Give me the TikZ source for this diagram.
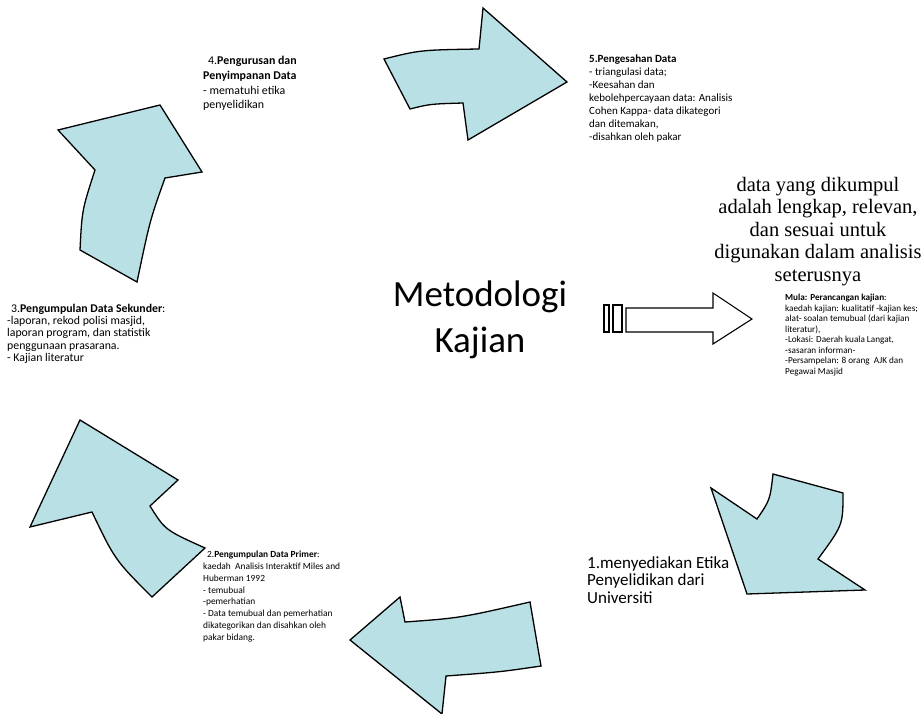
\documentclass[tikz,border=0pt]{standalone}
\usepackage{fontspec}
\setmainfont{Carlito}
\newfontfamily\serifText{Liberation Serif}
\definecolor{arrowFill}{RGB}{185,224,228}

\begin{document}
\begin{tikzpicture}
[x=1pt,y=-1pt,
  arrowDecorate/.style={draw=black,line width=1.3pt,fill=arrowFill,line join=miter},%
  hollowDecorate/.style={draw=black,line width=1.1pt,fill=white},%
  noteDecorate/.style={anchor=north west,inner sep=0pt,align=left},%
  smallNote/.style={noteDecorate,font=\fontsize{11}{13}\selectfont}]
\useasboundingbox (0,0) rectangle (924,714);
%% curved arrows round the cycle
\draw[arrowDecorate] (384,59) .. controls (420,50) .. (479,49) -- (483,8) -- (567,82)
  -- (468,140) -- (463,103) .. controls (430,104) .. (410,109) -- cycle;
\draw[arrowDecorate] (711,488) -- (757,519) .. controls (770,500) .. (773,474) -- (843,493)
  .. controls (843,525) .. (818,559) -- (865,590) -- (747,594) -- cycle;
\draw[arrowDecorate] (541,666) .. controls (500,672) .. (446,676) -- (442,714) -- (350,640)
  -- (400,597) -- (405,622) .. controls (460,618) .. (530,602) -- cycle;
\draw[arrowDecorate] (152,597) .. controls (115,560) .. (92,512) -- (30,527) -- (80,420)
  -- (178,480) -- (150,506) .. controls (165,530) .. (205,548) -- cycle;
\draw[arrowDecorate] (80,250) .. controls (82,210) .. (95,170) -- (58,130) -- (160,105)
  -- (202,172) -- (165,178) .. controls (150,220) .. (137,282) -- cycle;
%% striped arrow in the middle
\draw[hollowDecorate] (604,305) rectangle (609,332);
\draw[hollowDecorate] (613,305) rectangle (622,332);
\draw[hollowDecorate] (626,308) -- (713,308) -- (713,293) -- (752,319) -- (713,344)
  -- (713,332) -- (626,332) -- cycle;
%% texts
\node (centre) at (480,320) [align=center,inner sep=0pt,font=\fontsize{37}{46}\selectfont]
  {Metodologi\\Kajian};
\node (step1) at (587,556) [noteDecorate,font=\fontsize{17}{17.8}\selectfont]
  {1.menyediakan Etika\\Penyelidikan dari\\Universiti};
\node (step2) at (203,551) [smallNote,font=\fontsize{9.4}{11.8}\selectfont]
  {\hspace{4pt}2.\textbf{Pengumpulan Data Primer}:\\kaedah\ \ Analisis Interaktif Miles and\\Huberman 1992\\- temubual\\-pemerhatian\\- Data temubual dan pemerhatian\\dikategorikan dan disahkan oleh\\pakar bidang.};
\node (step3) at (7,304) [smallNote,font=\fontsize{11.8}{12.2}\selectfont]
  {\hspace{4pt}3.\textbf{Pengumpulan Data Sekunder}:\\-laporan, rekod polisi masjid,\\laporan program, dan statistik\\penggunaan prasarana.\\- Kajian literatur};
\node (step4) at (203,56) [noteDecorate,font=\fontsize{11.9}{14.8}\selectfont]
  {\hspace{5pt}4.\textbf{Pengurusan dan}\\\textbf{Penyimpanan Data}\\- mematuhi etika\\penyelidikan};
\node (step5) at (589,55) [smallNote]
  {\textbf{5.Pengesahan Data}\\- triangulasi data;\\-Keesahan dan\\kebolehpercayaan data: Analisis\\Cohen Kappa- data dikategori\\dan ditemakan,\\-disahkan oleh pakar};
\node (start) at (785,294) [smallNote,font=\fontsize{9.2}{10.5}\selectfont]
  {\textbf{Mula: Perancangan kajian}:\\kaedah kajian: kualitatif -kajian kes;\\alat- soalan temubual (dari kajian\\literatur),\\-Lokasi: Daerah kuala Langat,\\-sasaran informan-\\-Persampelan: 8 orang\ \ AJK dan\\Pegawai Masjid};
\node (result) at (818,177) [anchor=north,align=center,inner sep=0pt,font=\serifText\fontsize{20.5}{22.5}\selectfont]
  {data yang dikumpul\\adalah lengkap, relevan,\\dan sesuai untuk\\digunakan dalam analisis\\seterusnya};
\fill[gray] (717,249) circle (0.6) (828,271) circle (0.6);
\end{tikzpicture}
\end{document}
